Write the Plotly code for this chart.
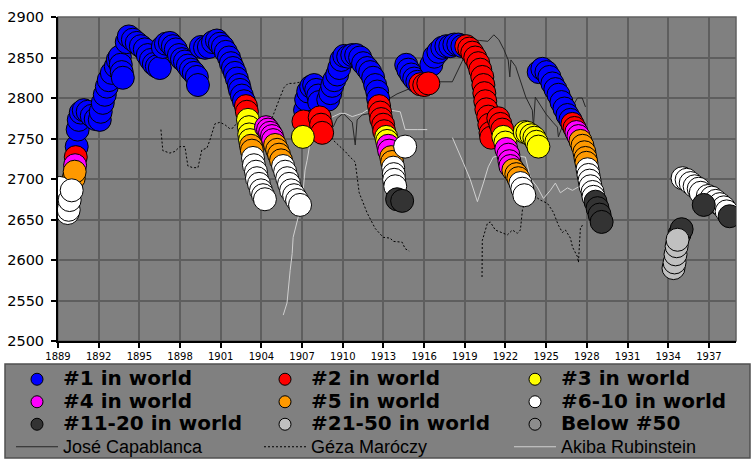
import plotly.graph_objects as go

# ---------------- data ----------------
# Emanuel Lasker: date, rating, world-rank group (1=#1,2=#2,3=#3,4=#4,5=#5,6=#6-10,7=#11-20,8=#21-50,9=below #50)
lasker_year = [
    1889.13, 1889.57, 1889.72, 1889.79, 1889.86, 1890.01, 1890.16, 1890.23, 1890.26, 1890.31,
    1890.38, 1890.45, 1890.53, 1890.68, 1890.90, 1891.19, 1891.49, 1891.78, 1892.08, 1892.15,
    1892.30, 1892.45, 1892.60, 1892.74, 1892.97, 1893.26, 1893.41, 1893.56, 1893.63, 1893.70,
    1893.78, 1894.07, 1894.22, 1894.52, 1894.81, 1895.11, 1895.40, 1895.62, 1895.85, 1896.07,
    1896.29, 1896.51, 1896.73, 1896.96, 1897.25, 1897.47, 1897.69, 1897.92, 1898.14, 1898.36,
    1898.58, 1898.80, 1899.02, 1899.24, 1899.32, 1899.54, 1899.84, 1900.13, 1900.43, 1900.72,
    1900.94, 1901.16, 1901.38, 1901.61, 1901.75, 1901.90, 1902.05, 1902.19, 1902.34, 1902.42,
    1902.56, 1902.71, 1902.86, 1902.93, 1903.01, 1903.08, 1903.10, 1903.16, 1903.23, 1903.30,
    1903.38, 1903.45, 1903.60, 1903.67, 1903.82, 1903.97, 1904.12, 1904.26, 1904.34, 1904.49,
    1904.64, 1904.78, 1904.86, 1905.01, 1905.16, 1905.30, 1905.45, 1905.60, 1905.75, 1905.90,
    1906.04, 1906.19, 1906.41, 1906.63, 1906.85, 1907.06, 1907.10, 1907.22, 1907.30, 1907.45,
    1907.67, 1907.89, 1908.04, 1908.19, 1908.26, 1908.30, 1908.40, 1908.48, 1908.93, 1909.08,
    1909.22, 1909.37, 1909.59, 1909.74, 1909.89, 1910.11, 1910.40, 1910.70, 1910.99, 1911.28,
    1911.50, 1911.80, 1912.02, 1912.24, 1912.39, 1912.54, 1912.61, 1912.68, 1912.76, 1912.83,
    1912.98, 1913.05, 1913.20, 1913.27, 1913.35, 1913.42, 1913.57, 1913.64, 1913.72, 1913.76,
    1913.79, 1913.87, 1914.01, 1914.38, 1914.60, 1914.68, 1914.83, 1915.05, 1915.27, 1915.50,
    1915.72, 1916.01, 1916.31, 1916.53, 1916.75, 1917.05, 1917.34, 1917.64, 1917.93, 1918.23,
    1918.52, 1918.82, 1919.11, 1919.33, 1919.55, 1919.77, 1919.99, 1920.14, 1920.29, 1920.37,
    1920.44, 1920.51, 1920.59, 1920.73, 1920.81, 1920.90, 1920.95, 1921.47, 1921.62, 1921.76,
    1921.84, 1921.99, 1922.06, 1922.21, 1922.29, 1922.36, 1922.58, 1922.80, 1922.95, 1923.10,
    1923.24, 1923.39, 1923.42, 1923.62, 1923.91, 1924.13, 1924.28, 1924.43, 1924.45, 1924.72,
    1925.02, 1925.24, 1925.46, 1925.68, 1925.91, 1926.13, 1926.35, 1926.57, 1926.79, 1926.94,
    1927.09, 1927.23, 1927.38, 1927.53, 1927.68, 1927.82, 1927.90, 1927.97, 1928.05, 1928.12,
    1928.20, 1928.27, 1928.42, 1928.49, 1928.64, 1928.79, 1928.94, 1929.09, 1934.39, 1934.47,
    1934.54, 1934.62, 1934.69, 1934.84, 1934.99, 1935.06, 1935.36, 1935.66, 1935.95, 1936.25,
    1936.40, 1936.62, 1936.92, 1937.21, 1937.51, 1937.81, 1938.10, 1938.31, 1938.53,
]
lasker_rating = [
    2689, 2668, 2658, 2662, 2674, 2686, 2701, 2709, 2717, 2727,
    2740, 2761, 2773, 2782, 2785, 2783, 2778, 2774, 2773, 2783,
    2794, 2804, 2814, 2822, 2831, 2839, 2847, 2851, 2841, 2832,
    2825, 2869, 2876, 2872, 2868, 2864, 2860, 2853, 2847, 2842,
    2839, 2837, 2863, 2867, 2868, 2864, 2860, 2853, 2848, 2845,
    2840, 2835, 2831, 2826, 2816, 2863, 2862, 2863, 2869, 2871,
    2867, 2863, 2857, 2850, 2843, 2837, 2831, 2824, 2816, 2810,
    2803, 2796, 2790, 2783, 2773, 2764, 2755, 2748, 2741, 2735,
    2726, 2717, 2709, 2701, 2694, 2686, 2680, 2675, 2764, 2761,
    2757, 2753, 2748, 2742, 2736, 2730, 2723, 2716, 2709, 2701,
    2694, 2686, 2680, 2674, 2668, 2752, 2771, 2785, 2798, 2808,
    2814, 2816, 2810, 2803, 2795, 2776, 2767, 2757, 2798, 2806,
    2815, 2822, 2829, 2837, 2847, 2852, 2851, 2853, 2853, 2850,
    2843, 2837, 2832, 2825, 2816, 2808, 2799, 2790, 2782, 2774,
    2767, 2759, 2752, 2747, 2741, 2735, 2727, 2721, 2714, 2706,
    2699, 2691, 2675, 2673, 2740, 2841, 2835, 2829, 2824, 2820,
    2817, 2816, 2818, 2841, 2851, 2857, 2862, 2864, 2864, 2866,
    2866, 2864, 2864, 2861, 2856, 2850, 2843, 2835, 2826, 2816,
    2806, 2796, 2786, 2777, 2767, 2757, 2751, 2775, 2768, 2761,
    2752, 2745, 2737, 2730, 2722, 2716, 2711, 2706, 2701, 2695,
    2688, 2680, 2758, 2757, 2754, 2751, 2746, 2740, 2832, 2836,
    2832, 2826, 2818, 2811, 2804, 2795, 2787, 2779, 2773, 2768,
    2763, 2758, 2753, 2747, 2741, 2733, 2726, 2720, 2712, 2705,
    2698, 2691, 2684, 2678, 2672, 2664, 2656, 2647, 2590, 2597,
    2607, 2617, 2625, 2632, 2638, 2701, 2699, 2695, 2691, 2688,
    2683, 2668, 2679, 2677, 2673, 2669, 2665, 2660, 2654,
]
lasker_rank = [
    6, 6, 6, 6, 6, 6, 5, 5, 4, 2,
    1, 1, 1, 1, 1, 1, 1, 1, 1, 1,
    1, 1, 1, 1, 1, 1, 1, 1, 1, 1,
    1, 1, 1, 1, 1, 1, 1, 1, 1, 1,
    1, 1, 1, 1, 1, 1, 1, 1, 1, 1,
    1, 1, 1, 1, 1, 1, 1, 1, 1, 1,
    1, 1, 1, 1, 1, 1, 1, 1, 1, 1,
    1, 1, 2, 2, 3, 3, 3, 3, 5, 5,
    6, 6, 6, 6, 6, 6, 6, 6, 4, 4,
    4, 4, 4, 5, 5, 5, 5, 6, 6, 6,
    6, 6, 6, 6, 6, 3, 2, 1, 1, 1,
    1, 1, 1, 1, 1, 2, 2, 2, 1, 1,
    1, 1, 1, 1, 1, 1, 1, 1, 1, 1,
    1, 1, 1, 1, 1, 1, 1, 2, 2, 2,
    2, 2, 3, 3, 4, 4, 5, 5, 6, 6,
    6, 6, 7, 7, 6, 1, 1, 1, 1, 1,
    2, 2, 2, 1, 1, 1, 1, 1, 1, 1,
    1, 1, 2, 2, 2, 2, 2, 2, 2, 2,
    2, 2, 2, 2, 2, 2, 2, 2, 2, 2,
    3, 3, 4, 4, 4, 4, 5, 5, 5, 6,
    6, 6, 3, 3, 3, 3, 3, 3, 1, 1,
    1, 1, 1, 1, 1, 1, 1, 1, 1, 2,
    2, 4, 4, 5, 5, 5, 5, 5, 6, 6,
    6, 6, 6, 6, 7, 7, 7, 7, 8, 8,
    8, 8, 8, 7, 7, 6, 6, 6, 6, 6,
    6, 7, 6, 6, 6, 6, 6, 6, 7,
]

rank_names = ["#1 in world", "#2 in world", "#3 in world", "#4 in world", "#5 in world",
              "#6-10 in world", "#11-20 in world", "#21-50 in world", "Below #50"]

capablanca_year = [1909.29, 1909.59, 1910.03, 1910.40, 1910.70, 1910.92, 1911.06, 1911.43, 1912.02, 1913.0,
                   1914.0, 1915.0, 1916.0, 1916.97, 1918.08, 1918.8, 1919.55, 1920.1, 1920.7, 1921.14,
                   1921.51, 1921.88, 1922.2, 1922.32, 1922.40, 1922.75, 1923.1, 1923.5, 1923.98, 1924.06,
                   1924.2, 1924.6, 1925.0, 1925.5, 1925.83, 1925.9, 1926.3, 1926.79, 1927.31, 1927.66, 1927.9]
capablanca_rating = [2764, 2775, 2781, 2775, 2770, 2742, 2773, 2779, 2781, 2795,
                     2805, 2812, 2818, 2820, 2820, 2845, 2872, 2871, 2870, 2878,
                     2872, 2860, 2847, 2826, 2847, 2839, 2820, 2801, 2785, 2764,
                     2801, 2790, 2780, 2770, 2764, 2752, 2770, 2785, 2800, 2800, 2789]

maroczy_year = [1896.59, 1896.73, 1897.25, 1897.62, 1897.99, 1898.36, 1898.58, 1898.95, 1899.32, 1899.61,
                1899.98, 1900.20, 1900.57, 1900.94, 1901.31, 1901.68, 1901.90, 1902.19, 1903.0, 1904.0,
                1904.78, 1905.08, 1905.38, 1905.67, 1905.97, 1906.34, 1907.0, 1907.6, 1908.3, 1908.9,
                1909.29, 1909.81, 1910.18, 1910.55, 1910.92, 1911.21, 1911.80, 1912.39, 1912.98, 1913.50,
                1913.72, 1914.38, 1914.60, 1914.90, None,
                1920.27, 1920.29, 1920.66, 1920.88, 1921.25, 1921.77, 1922.14, 1922.51, 1922.88, 1923.10,
                1923.25, 1923.61, 1924.06, 1924.57, 1925.09, 1925.53, 1925.90, 1926.20, 1926.42, 1926.79,
                1926.94, 1927.31, 1927.38, 1927.53, 1927.75]
maroczy_rating = [2761, 2735, 2732, 2734, 2740, 2740, 2716, 2714, 2714, 2736,
                  2738, 2748, 2768, 2770, 2767, 2762, 2763, 2769, 2772, 2770,
                  2775, 2789, 2801, 2813, 2818, 2818, 2820, 2805, 2780, 2760,
                  2748, 2740, 2734, 2727, 2721, 2683, 2658, 2639, 2628, 2627,
                  2623, 2622, 2614, 2611, None,
                  2579, 2624, 2645, 2647, 2637, 2634, 2631, 2637, 2633, 2637,
                  2662, 2680, 2680, 2674, 2670, 2659, 2643, 2634, 2637, 2627,
                  2616, 2604, 2597, 2641, 2643]

rubinstein_year = [1905.61, 1905.89, 1906.12, 1906.27, 1906.34, 1906.63, 1906.85, 1907.08, 1907.22, 1907.37,
                   1907.59, 1907.82, 1908.33, 1909.29, 1909.81, 1910.18, 1910.70, 1911.06, 1911.43, 1911.80,
                   1913.50, 1914.24, 1914.46, 1914.60, 1915.49, 1916.23, None,
                   1918.09, 1918.45, 1918.89, 1919.41, 1919.93, 1920.37, 1920.73, 1921.10, 1922.0, 1923.47,
                   1923.84, 1924.35, 1924.80, 1925.31, 1925.68, 1926.05, 1926.57, 1926.94, 1927.31, 1927.68]
rubinstein_rating = [2532, 2547, 2587, 2608, 2628, 2649, 2662, 2686, 2711, 2723,
                     2745, 2761, 2769, 2777, 2781, 2781, 2777, 2779, 2781, 2785,
                     2785, 2783, 2769, 2761, 2761, 2761, None,
                     2751, 2736, 2720, 2699, 2672, 2695, 2715, 2727, 2730, 2727,
                     2701, 2690, 2676, 2686, 2695, 2683, 2689, 2686, 2690, 2693]

# ---------------- styling ----------------
rank_colors = ["#0000FF", "#FF0000", "#FFFF00", "#FF00FF", "#FF9900",
               "#FFFFFF", "#333333", "#C0C0C0", "#8C8C8C"]
# legend column of each rank entry (three columns, as in the reference)
rank_legend = ["legend", "legend2", "legend3", "legend", "legend2", "legend3",
               "legend", "legend2", "legend3"]

W, H = 756, 464
L, R, T, B = 58, 20, 17, 123
PW, PH = W - L - R, H - T - B


def px_to_paper_x(px):
    return (px - L) / PW


def px_to_paper_y(py):
    return (H - B - py) / PH


fig = go.Figure()

line_font = "<span style=\"font-family:Liberation Sans;font-size:18px;font-weight:normal\">{}</span>"
mark_font = "<span style=\"font-family:DejaVu Sans;font-size:20px;font-weight:bold\">{}</span>"

# comparison players (drawn underneath Lasker's markers)
fig.add_trace(go.Scatter(x=capablanca_year, y=capablanca_rating, mode="lines",
                         line=dict(color="#262626", width=1), legend="legend",
                         name=line_font.format("José Capablanca"), legendrank=10, hoverinfo="skip"))
fig.add_trace(go.Scatter(x=maroczy_year, y=maroczy_rating, mode="lines",
                         line=dict(color="#000000", width=1, dash="2px,2px"), legend="legend2",
                         name=line_font.format("Géza Maróczy"), legendrank=11, hoverinfo="skip"))
fig.add_trace(go.Scatter(x=rubinstein_year, y=rubinstein_rating, mode="lines",
                         line=dict(color="#D0D0D0", width=1), legend="legend3",
                         name=line_font.format("Akiba Rubinstein"), legendrank=12, hoverinfo="skip"))

# Lasker, one trace per world-rank group (later groups on top)
for i, (nm, col, lg) in enumerate(zip(rank_names, rank_colors, rank_legend)):
    code = i + 1
    xs = [x for x, r in zip(lasker_year, lasker_rank) if r == code]
    ys = [y for y, r in zip(lasker_rating, lasker_rank) if r == code]
    if not xs:
        xs, ys = [None], [None]
    fig.add_trace(go.Scatter(x=xs, y=ys, mode="markers", showlegend=False,
                             marker=dict(size=23, color=col, line=dict(color="black", width=1)),
                             name=nm))
    # legend entry with a small marker
    fig.add_trace(go.Scatter(x=[None], y=[None], mode="markers", legend=lg,
                             marker=dict(size=12, color=col, line=dict(color="black", width=1)),
                             name=mark_font.format(nm), legendrank=code))

# plot-area frame (top/right edges are grey in the reference)
fig.add_shape(type="rect", xref="paper", yref="paper", x0=0, x1=1, y0=0, y1=1,
              line=dict(color="#606060", width=1.5), layer="below")
# legend box spanning the three legend columns
fig.add_shape(type="rect", xref="paper", yref="paper",
              x0=px_to_paper_x(5), x1=px_to_paper_x(750),
              y0=px_to_paper_y(458), y1=px_to_paper_y(364),
              fillcolor="#808080", line=dict(color="#505050", width=1.5), layer="below")

legend_common = dict(orientation="v", xref="paper", yref="paper",
                     xanchor="left", yanchor="top",
                     bgcolor="rgba(0,0,0,0)", borderwidth=0,
                     font=dict(family="DejaVu Sans", size=15, color="black"),
                     itemwidth=42, itemsizing="trace", traceorder="normal",
                     tracegroupgap=0)
legend_top = px_to_paper_y(363)

fig.update_layout(
    width=W, height=H,
    margin=dict(l=L, r=R, t=T, b=B, autoexpand=False),
    paper_bgcolor="white", plot_bgcolor="#808080",
    showlegend=True,
    legend=dict(x=px_to_paper_x(11), y=legend_top, **legend_common),
    legend2=dict(x=px_to_paper_x(259), y=legend_top, **legend_common),
    legend3=dict(x=px_to_paper_x(509), y=legend_top, **legend_common),
    xaxis=dict(range=[1889, 1939], tick0=1889, dtick=3, showgrid=True,
               gridcolor="#5E5E5E", gridwidth=1.5, zeroline=False,
               showline=True, linecolor="black", linewidth=2,
               ticks="outside", ticklen=5, tickcolor="black", tickwidth=1.5,
               tickfont=dict(family="DejaVu Sans", size=10, color="black")),
    yaxis=dict(range=[2500, 2900], dtick=50, showgrid=True,
               gridcolor="#5E5E5E", gridwidth=1.5, zeroline=False,
               showline=True, linecolor="black", linewidth=2,
               ticks="outside", ticklen=5, tickcolor="black", tickwidth=1.5,
               ticklabelstandoff=4,
               tickfont=dict(family="DejaVu Sans", size=14.5, color="black")),
)

fig.write_html("out.html", config={"displayModeBar": False},
               post_script="document.body.style.margin='0';document.body.style.overflow='hidden';")
